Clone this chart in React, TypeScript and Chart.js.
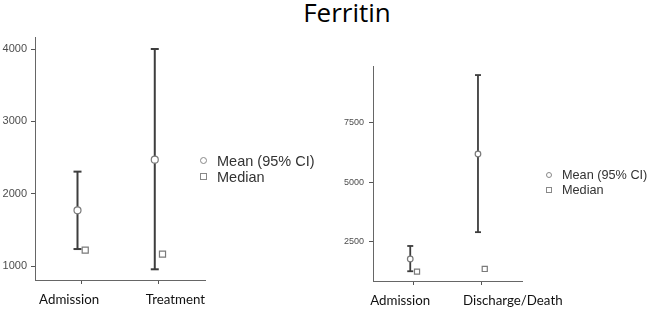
import React, { useEffect, useRef } from "react";
import { Chart, registerables } from "chart.js";
Chart.register(...registerables);

const TITLE = "Ferritin";
const LEGEND_LABELS = ["Mean (95% CI)", "Median"];

const leftCategories = ["Admission", "Treatment"];
const leftMean = [1770, 2470];
const leftLower = [1235, 955];
const leftUpper = [2305, 4000];
const leftMedian = [1220, 1165];
const leftYTicks = [1000, 2000, 3000, 4000];

const rightCategories = ["Admission", "Discharge/Death"];
const rightMean = [1786, 6190];
const rightLower = [1270, 2910];
const rightUpper = [2330, 9500];
const rightMedian = [1256, 1366];
const rightYTicks = [2500, 5000, 7500];

type Spec = {
  categories: string[];
  mean: number[];
  lower: number[];
  upper: number[];
  median: number[];
  yTicks: number[];
  yMin: number;
  yMax: number;
  padding: { left: number; right: number; top: number; bottom: number };
  yWidth: number;
  xHeight: number;
  yFont: number;
  yPad: number;
  xPad: number;
  labelShift: number[];
  capR: number;
  barW: number;
  meanR: number;
  medR: number;
};

const DODGE = 0.05;

function makeChart(canvas: HTMLCanvasElement, s: Spec) {
  const errorBars = s.categories.map((c, i) => ({
    type: "scatter" as const,
    label: c + " CI",
    data: [
      { x: i + 1 - DODGE, y: s.lower[i] },
      { x: i + 1 - DODGE, y: s.upper[i] },
    ],
    showLine: true,
    borderColor: "#3d3d3d",
    borderWidth: s.barW,
    pointStyle: "line",
    pointRadius: s.capR,
    pointBorderWidth: s.barW,
    pointBorderColor: "#3d3d3d",
    order: 2,
  }));
  const means = {
    type: "scatter" as const,
    label: LEGEND_LABELS[0],
    data: s.categories.map((c, i) => ({ x: i + 1 - DODGE, y: s.mean[i] })),
    pointStyle: "circle",
    pointRadius: s.meanR,
    pointBackgroundColor: "#ffffff",
    pointBorderColor: "#7a7a7a",
    pointBorderWidth: 1.2,
    order: 0,
  };
  const medians = {
    type: "scatter" as const,
    label: LEGEND_LABELS[1],
    data: s.categories.map((c, i) => ({ x: i + 1 + DODGE, y: s.median[i] })),
    pointStyle: "rect",
    pointRadius: s.medR,
    pointBackgroundColor: "#ffffff",
    pointBorderColor: "#7a7a7a",
    pointBorderWidth: 1.2,
    order: 0,
  };
  const xMin = 0.4;
  const xMax = s.categories.length + 0.6;
  return new Chart(canvas, {
    type: "scatter",
    data: { datasets: [means, medians, ...errorBars] as any },
    options: {
      animation: false,
      responsive: false,
      maintainAspectRatio: false,
      events: [],
      layout: { padding: s.padding },
      plugins: {
        legend: { display: false },
        tooltip: { enabled: false },
        title: { display: false },
      },
      scales: {
        x: {
          type: "linear",
          position: "bottom",
          weight: 0,
          min: xMin,
          max: xMax,
          afterBuildTicks: (sc: any) => {
            sc.ticks = s.categories.map((c, i) => ({ value: i + 1 }));
          },
          afterFit: (sc: any) => {
            sc.height = 4;
          },
          ticks: { display: false, autoSkip: false },
          grid: {
            drawOnChartArea: false,
            drawTicks: true,
            tickLength: 4,
            color: "#555555",
          },
          border: { display: true, color: "#666666", width: 1 },
        },
        xl: {
          type: "linear",
          position: "bottom",
          axis: "x",
          weight: 1,
          min: xMin,
          max: xMax,
          afterBuildTicks: (sc: any) => {
            sc.ticks = s.categories.map((c, i) => ({ value: i + 1 + s.labelShift[i] }));
          },
          afterFit: (sc: any) => {
            sc.height = s.xHeight - 4;
          },
          ticks: {
            callback: (_v: any, idx: number) => s.categories[idx] ?? "",
            font: { family: "Lato", size: 13.3 },
            color: "#111111",
            padding: s.xPad,
            maxRotation: 0,
            autoSkip: false,
          },
          grid: { display: false, drawTicks: false },
          border: { display: false },
        },
        y: {
          type: "linear",
          min: s.yMin,
          max: s.yMax,
          afterBuildTicks: (sc: any) => {
            sc.ticks = s.yTicks.map((v) => ({ value: v }));
          },
          afterFit: (sc: any) => {
            sc.width = s.yWidth;
          },
          ticks: {
            callback: (v: any) => String(v),
            font: { family: "Liberation Sans", size: s.yFont },
            color: "#4d4d4d",
            padding: s.yPad,
            autoSkip: false,
          },
          grid: {
            drawOnChartArea: false,
            drawTicks: true,
            tickLength: 4,
            color: "#555555",
          },
          border: { display: true, color: "#666666", width: 1 },
        },
      },
    } as any,
  });
}

const leftSpec: Spec = {
  categories: leftCategories,
  mean: leftMean,
  lower: leftLower,
  upper: leftUpper,
  median: leftMedian,
  yTicks: leftYTicks,
  yMin: 807,
  yMax: 4166,
  padding: { left: 0, right: 446, top: 37, bottom: 0 },
  yWidth: 35,
  xHeight: 30,
  yFont: 11,
  yPad: 4,
  xPad: 8,
  labelShift: [-0.158, 0.218],
  capR: 4,
  barW: 2,
  meanR: 3.5,
  medR: 4.3,
};

const rightSpec: Spec = {
  categories: rightCategories,
  mean: rightMean,
  lower: rightLower,
  upper: rightUpper,
  median: rightMedian,
  yTicks: rightYTicks,
  yMin: 861,
  yMax: 9880,
  padding: { left: 330, right: 129, top: 66, bottom: 0 },
  yWidth: 43,
  xHeight: 29,
  yFont: 9,
  yPad: 5,
  xPad: 8,
  labelShift: [-0.198, 0.464],
  capR: 3,
  barW: 1.8,
  meanR: 2.8,
  medR: 3.6,
};

function Legend(props: {
  cx: number;
  textX: number;
  rows: number[];
  size: number;
  fontSize: number;
}) {
  const { cx, textX, rows, size, fontSize } = props;
  const lh = 16;
  return (
    <>
      {LEGEND_LABELS.map((lab, i) => (
        <React.Fragment key={lab}>
          <span
            style={{
              position: "absolute",
              left: cx - size / 2,
              top: rows[i] - size / 2,
              width: size,
              height: size,
              border: "1px solid #888888",
              borderRadius: i === 0 ? "50%" : 0,
              boxSizing: "border-box",
              background: "#fff",
            }}
          />
          <span
            style={{
              position: "absolute",
              left: textX,
              top: rows[i] - lh / 2,
              lineHeight: lh + "px",
              fontSize: fontSize,
              fontFamily: "'Liberation Sans', Arial, sans-serif",
              color: "#333333",
              whiteSpace: "nowrap",
            }}
          >
            {lab}
          </span>
        </React.Fragment>
      ))}
    </>
  );
}

export default function App() {
  const leftRef = useRef<HTMLCanvasElement>(null);
  const rightRef = useRef<HTMLCanvasElement>(null);

  useEffect(() => {
    const a = makeChart(leftRef.current!, leftSpec);
    const b = makeChart(rightRef.current!, rightSpec);
    return () => {
      a.destroy();
      b.destroy();
    };
  }, []);

  const canvasStyle: React.CSSProperties = {
    position: "absolute",
    left: 0,
    top: 0,
    width: 651,
    height: 310,
  };

  return (
    <div
      style={{
        position: "fixed",
        left: 0,
        top: 0,
        width: 651,
        height: 310,
        background: "#ffffff",
        overflow: "hidden",
      }}
    >
      <div
        style={{
          position: "absolute",
          left: 247,
          top: -1,
          width: 200,
          textAlign: "center",
          fontFamily: "'Open Sans', sans-serif",
          fontSize: 26,
          lineHeight: "26px",
          color: "#000",
        }}
      >
        {TITLE}
      </div>
      <canvas ref={leftRef} width={651} height={310} style={canvasStyle} />
      <canvas ref={rightRef} width={651} height={310} style={canvasStyle} />
      <Legend cx={203} textX={217} rows={[160.7, 176.5]} size={7} fontSize={14.5} />
      <Legend cx={549} textX={562} rows={[174.7, 190.3]} size={6} fontSize={12.7} />
    </div>
  );
}
